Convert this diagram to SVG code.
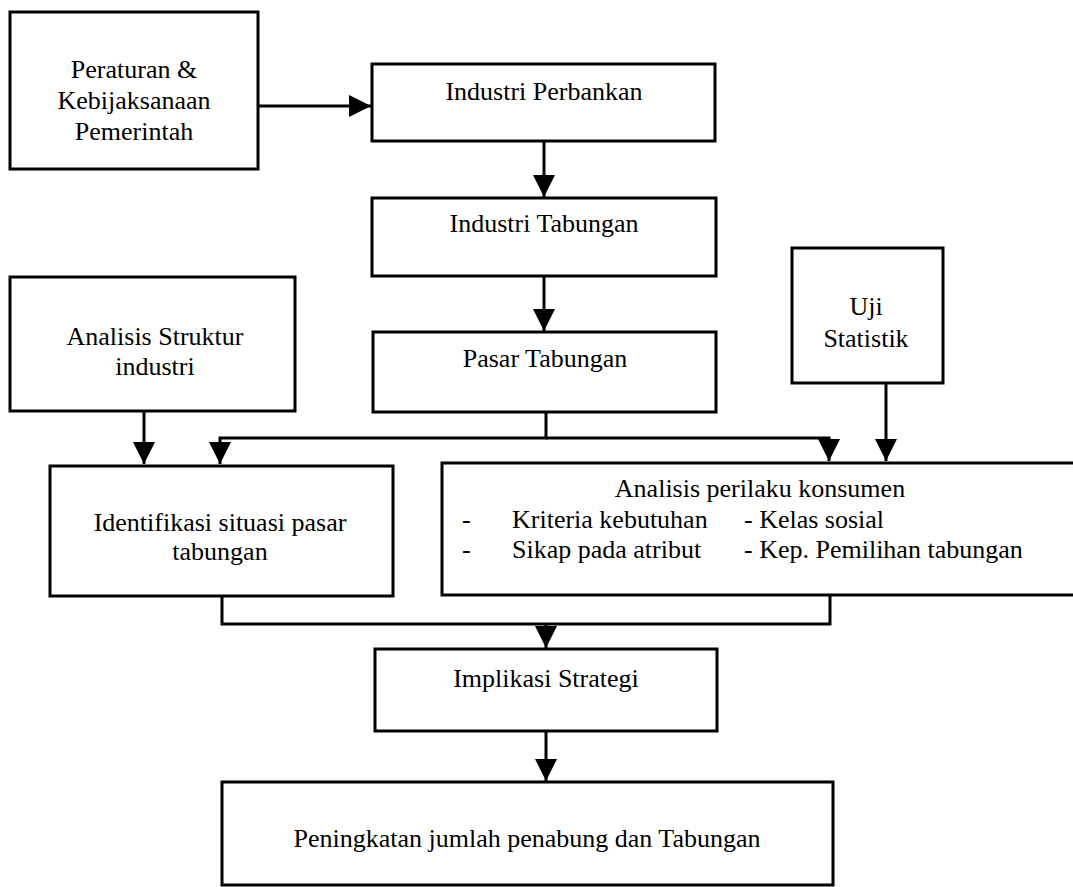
<svg xmlns="http://www.w3.org/2000/svg" width="1073" height="887" viewBox="0 0 1073 887">
<style>
.box{fill:#fff;stroke:#000;stroke-width:3}
.t{font-family:"Liberation Serif","Times New Roman",serif;font-size:26px;fill:#000;text-anchor:middle}
.l{text-anchor:start}
.c{fill:none;stroke:#000;stroke-width:3}
</style>
<defs>
<marker id="ah" markerUnits="userSpaceOnUse" markerWidth="24" markerHeight="24" refX="22" refY="11" orient="auto">
<path d="M0,0 L22,11 L0,22 z" fill="#000"/>
</marker>
</defs>
<rect width="1073" height="887" fill="#fff"/>
<g id="connectors">
<path class="c" d="M258,106 H371" marker-end="url(#ah)"/>
<path class="c" d="M544,141 V197" marker-end="url(#ah)"/>
<path class="c" d="M544,276 V331" marker-end="url(#ah)"/>
<path class="c" d="M546,412 V438 H220 V464" marker-end="url(#ah)"/>
<path class="c" d="M546,438 H829 V461" marker-end="url(#ah)"/>
<path class="c" d="M144,411 V464" marker-end="url(#ah)"/>
<path class="c" d="M886,383 V461" marker-end="url(#ah)"/>
<path class="c" d="M222,596 V624 H830 V595"/>
<path class="c" d="M546,624 V648" marker-end="url(#ah)"/>
<path class="c" d="M546,731 V781" marker-end="url(#ah)"/>
</g>
<g id="peraturan">
<rect class="box" x="10" y="12" width="248" height="157"/>
<text class="t" x="134" y="78">Peraturan &amp;</text>
<text class="t" x="134" y="109">Kebijaksanaan</text>
<text class="t" x="134" y="140">Pemerintah</text>
</g>
<g id="perbankan">
<rect class="box" x="372" y="64" width="343" height="77"/>
<text class="t" x="544" y="100">Industri Perbankan</text>
</g>
<g id="industri-tabungan">
<rect class="box" x="372" y="198" width="344" height="78"/>
<text class="t" x="544" y="232">Industri Tabungan</text>
</g>
<g id="pasar-tabungan">
<rect class="box" x="373" y="332" width="343" height="80"/>
<text class="t" x="545" y="367">Pasar Tabungan</text>
</g>
<g id="analisis-struktur">
<rect class="box" x="10" y="277" width="285" height="134"/>
<text class="t" x="155" y="345">Analisis Struktur</text>
<text class="t" x="155" y="375">industri</text>
</g>
<g id="uji-statistik">
<rect class="box" x="792" y="248" width="151" height="135"/>
<text class="t" x="866" y="315">Uji</text>
<text class="t" x="866" y="347">Statistik</text>
</g>
<g id="identifikasi">
<rect class="box" x="50" y="466" width="343" height="130"/>
<text class="t" x="220" y="531">Identifikasi situasi pasar</text>
<text class="t" x="220" y="560">tabungan</text>
</g>
<g id="perilaku">
<rect class="box" x="442" y="463" width="640" height="132"/>
<text class="t" x="760" y="497">Analisis perilaku konsumen</text>
<text class="t l" x="462" y="528">-</text>
<text class="t l" x="512" y="528">Kriteria kebutuhan</text>
<text class="t l" x="744" y="528">- Kelas sosial</text>
<text class="t l" x="462" y="558">-</text>
<text class="t l" x="512" y="558">Sikap pada atribut</text>
<text class="t l" x="744" y="558">- Kep. Pemilihan tabungan</text>
</g>
<g id="implikasi">
<rect class="box" x="375" y="649" width="342" height="82"/>
<text class="t" x="546" y="687">Implikasi Strategi</text>
</g>
<g id="peningkatan">
<rect class="box" x="222" y="782" width="611" height="103"/>
<text class="t" x="527" y="847">Peningkatan jumlah penabung dan Tabungan</text>
</g>
</svg>
